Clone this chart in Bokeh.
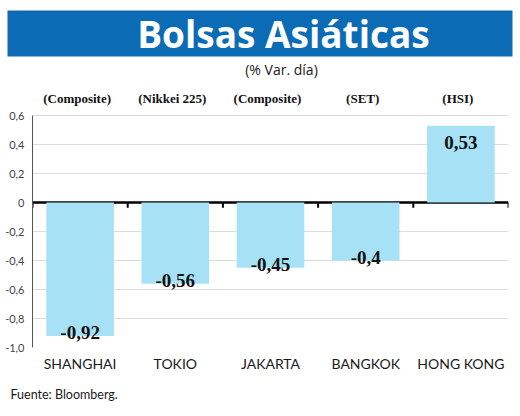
from bokeh.plotting import figure
from bokeh.layouts import column
from bokeh.models import (FactorRange, Range1d, FixedTicker, ColumnDataSource, Span)
from bokeh.core.properties import value
from bokeh.embed import file_html
from bokeh.resources import INLINE

# ---- data ----
cities = ["SHANGHAI", "TOKIO", "JAKARTA", "BANGKOK", "HONG KONG"]
indices = ["(Composite)", "(Nikkei 225)", "(Composite)", "(SET)", "(HSI)"]
changes = [-0.92, -0.56, -0.45, -0.4, 0.53]
y_ticks = [-1.0, -0.8, -0.6, -0.4, -0.2, 0.0, 0.2, 0.4, 0.6]
y_tick_labels = ["-1,0", "-0,8", "-0,6", "-0,4", "-0,2", "0", "0,2", "0,4", "0,6"]
title_text = "Bolsas Asiáticas"
subtitle_text = "(% Var. día)"
source_text = "Fuente: Bloomberg."

BAR_COLOR = "#a6e1f6"
BANNER_COLOR = "#0b6bb5"
W = 520


def blank_figure(h):
    f = figure(width=W, height=h, output_backend="svg", toolbar_location=None,
               x_range=Range1d(0, W), y_range=Range1d(h, 0),
               x_axis_location=None, y_axis_location=None, min_border=0)
    try:
        f.frame_align = False
    except Exception:
        pass
    f.grid.visible = False
    f.outline_line_color = None
    f.background_fill_color = "white"
    f.border_fill_color = "white"
    return f


# ---- header: banner, title, subtitle ----
header = blank_figure(80)
header.quad(left=[7], right=[512], top=[10], bottom=[56],
            fill_color=BANNER_COLOR, line_color=None)
header.text(x=[283], y=[33], text=[title_text], text_font=value("Open Sans"),
            text_font_style="bold", text_font_size="37px", text_color="white",
            text_align="center", text_baseline="middle")
header.text(x=[281], y=[69], text=[subtitle_text], text_font=value("Open Sans"),
            text_font_size="14px", text_color="#1a1a1a",
            text_align="center", text_baseline="middle")

# ---- main chart ----
p = figure(width=W, height=300, output_backend="svg", toolbar_location=None,
           x_range=FactorRange(*cities), y_range=Range1d(-1.0, 0.78),
           min_border_left=32, min_border_right=12, min_border_top=9,
           min_border_bottom=33)
try:
    p.frame_align = False
except Exception:
    pass
p.outline_line_color = None
p.background_fill_color = "white"
p.border_fill_color = "white"

p.xgrid.grid_line_color = None
p.ygrid.ticker = FixedTicker(ticks=y_ticks)
p.ygrid.grid_line_color = "#dcdcdc"
p.ygrid.grid_line_width = 1

p.yaxis.ticker = FixedTicker(ticks=y_ticks)
p.yaxis.bounds = (y_ticks[0], y_ticks[-1])
p.yaxis.major_label_overrides = {t: l for t, l in zip(y_ticks, y_tick_labels)}
p.yaxis.axis_line_color = "#555555"
p.yaxis.axis_line_width = 1
p.yaxis.major_tick_line_color = None
p.yaxis.major_tick_out = 0
p.yaxis.major_tick_in = 0
p.yaxis.minor_tick_line_color = None
p.yaxis.major_label_text_font = "Lato"
p.yaxis.major_label_text_font_size = "11px"
p.yaxis.major_label_text_color = "#444444"
p.yaxis.major_label_standoff = 8

p.xaxis.axis_line_color = None
p.xaxis.major_tick_line_color = None
p.xaxis.major_tick_out = 0
p.xaxis.major_tick_in = 0
p.xaxis.minor_tick_line_color = None
p.xaxis.major_label_text_font = "Lato"
p.xaxis.major_label_text_font_size = "14px"
p.xaxis.major_label_text_color = "#1a1a1a"
p.xaxis.major_label_standoff = 7

# zero line with category-boundary ticks, beneath the bars
p.add_layout(Span(location=0, dimension="width", line_color="black",
                  line_width=2.5, level="underlay"))
bounds_x = list(range(len(cities) + 1))
p.segment(x0=bounds_x, x1=bounds_x, y0=[0] * len(bounds_x),
          y1=[-0.035] * len(bounds_x), line_color="black", line_width=2)

src = ColumnDataSource(dict(
    city=cities,
    change=changes,
    label=[f"{v:g}".replace(".", ",") for v in changes],
    yoff=[17 if v > 0 else -3 for v in changes],
    index=indices,
    index_y=[0.72] * len(cities),
))

p.vbar(x="city", top="change", bottom=0, width=0.71, source=src,
       fill_color=BAR_COLOR, line_color=None)

p.text(x="city", y="change", text="label", source=src,
       text_font=value("Liberation Serif"), text_font_style="bold",
       text_font_size="19px", text_color="#111111",
       text_align="center", text_baseline="alphabetic", y_offset="yoff")

p.text(x="city", y="index_y", text="index", source=src,
       text_font=value("Liberation Serif"), text_font_style="bold",
       text_font_size="13px", text_color="#111111",
       text_align="center", text_baseline="middle", x_offset=-3)

# ---- footer: source ----
footer = blank_figure(36)
footer.text(x=[10], y=[14], text=[source_text], text_font=value("Lato"),
            text_font_size="12.5px", text_color="#1a1a1a",
            text_align="left", text_baseline="middle")

layout = column(header, p, footer, spacing=0)
open("out.html", "w").write(file_html(layout, INLINE))
